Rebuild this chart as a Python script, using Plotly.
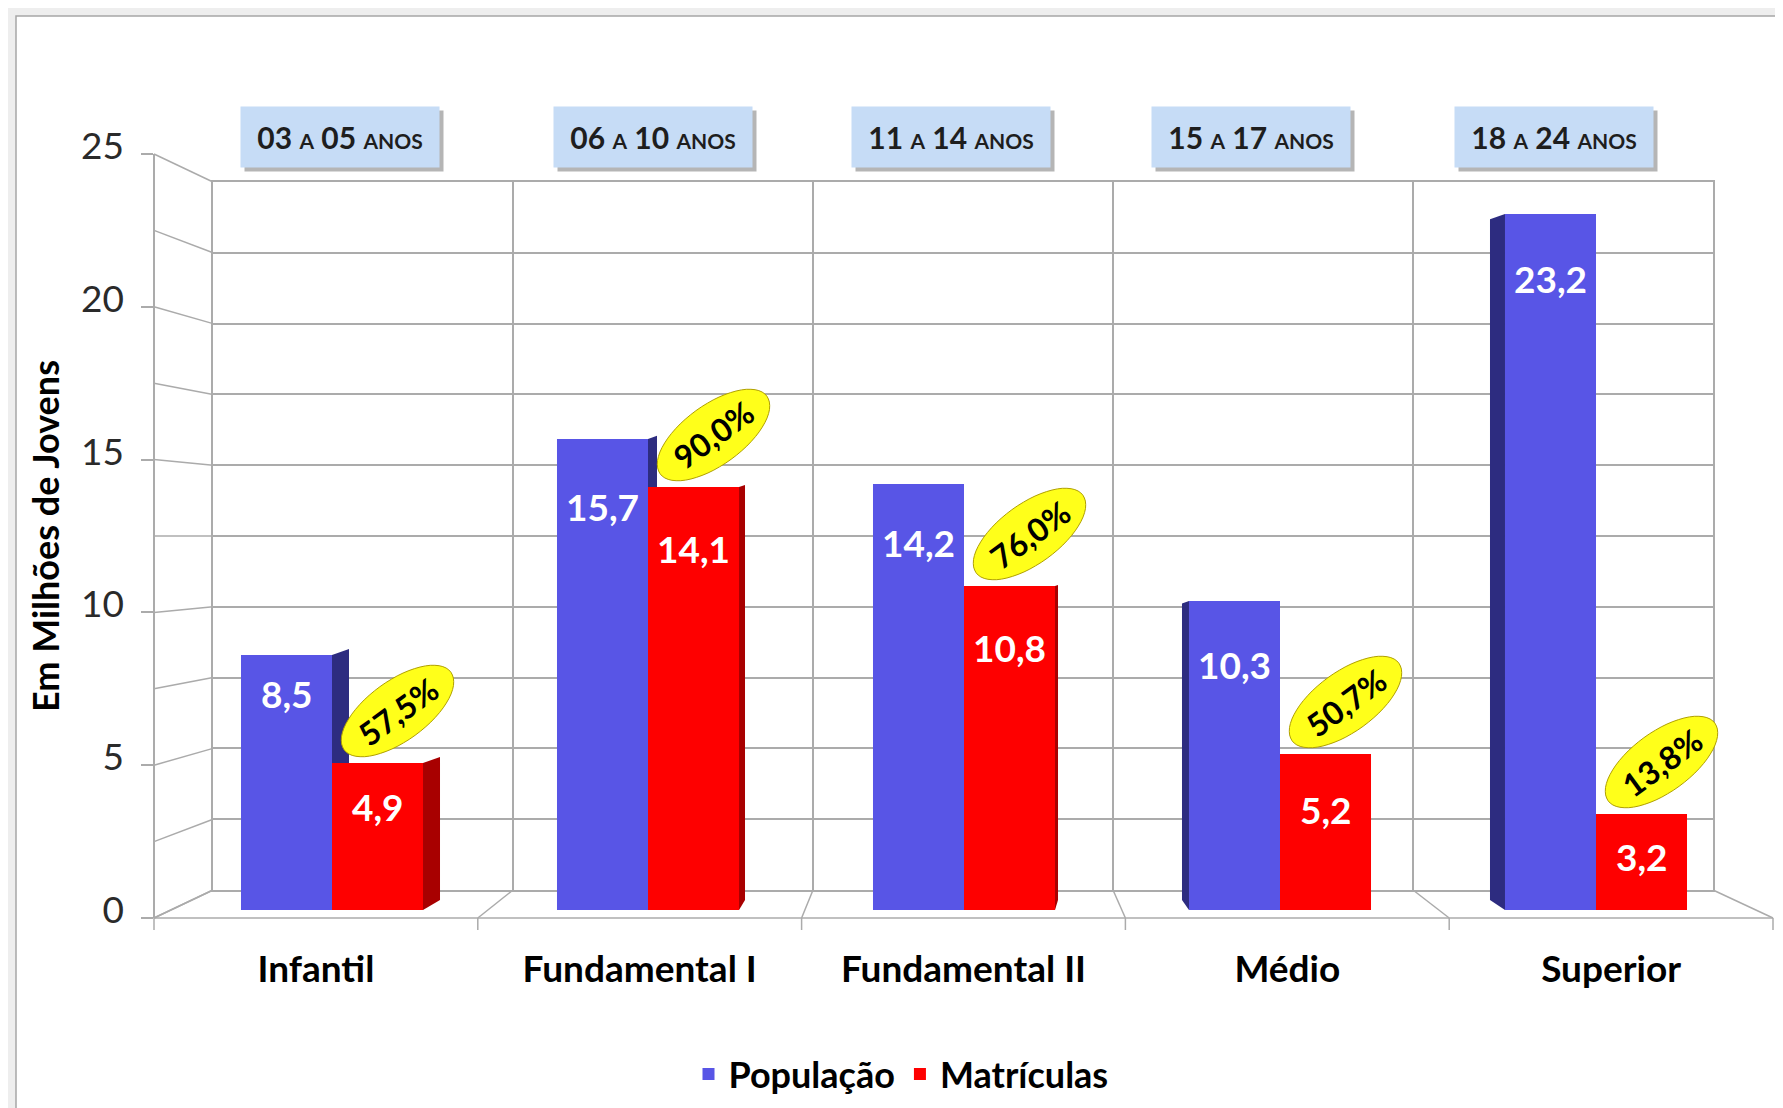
import math
import plotly.graph_objects as go

# ---------------- data ----------------
CATEGORIES = ["Infantil", "Fundamental I", "Fundamental II", "Médio", "Superior"]
AGE_FROM = ["03", "06", "11", "15", "18"]
AGE_TO = ["05", "10", "14", "17", "24"]
POPULACAO = [8.5, 15.7, 14.2, 10.3, 23.2]
MATRICULAS = [4.9, 14.1, 10.8, 5.2, 3.2]
PERCENT = [57.5, 90.0, 76.0, 50.7, 13.8]
Y_TICKS = [0, 5, 10, 15, 20, 25]

# ---------------- style ----------------
W, H = 1783, 1108
FONT = "Lato"
BLUE = "#5855e6"
RED = "#fe0000"
BLUE_SIDE_COL = "#2d2c80"
RED_SIDE_COL = "#a80000"
GRID = "#ababab"
BAR_W = 0.288
BLUE_SIDE = [17, 9, 0, -7, -15]
RED_SIDE = [17, 6, 3, 0, 0]
HEADER_XSHIFT = [8, 5, -13, -29, -42]
POP_LABEL_DY = [38, 68, 58, 63, 65]
MAT_LABEL_DY = [43, 61, 61, 55, 42]


def px(x):
    return x / W


def py(y):
    return 1 - y / H


def fmt(v):
    return f"{v:.1f}".replace(".", ",")


idx = list(range(len(CATEGORIES)))

fig = go.Figure()

# back wall subplot (gridlines only)
fig.add_trace(go.Scatter(x=[None], y=[None], xaxis="x", yaxis="y",
                         showlegend=False, hoverinfo="skip"))
# bars
fig.add_trace(go.Bar(x=idx, y=POPULACAO, name="População", marker_color=BLUE,
                     marker_line_width=0, xaxis="x2", yaxis="y2"))
fig.add_trace(go.Bar(x=idx, y=MATRICULAS, name="Matrículas", marker_color=RED,
                     marker_line_width=0, xaxis="x2", yaxis="y2"))
# front value axis / front category labels
fig.add_trace(go.Scatter(x=[None], y=[None], xaxis="x3", yaxis="y3",
                         showlegend=False, hoverinfo="skip"))

shapes = []
# outer frame
shapes.append(dict(type="rect", xref="paper", yref="paper", x0=px(8), x1=px(1776),
                   y0=py(1104), y1=py(8), fillcolor="white",
                   line=dict(color="#a6a6a6", width=1.5), layer="below"))

# perspective lines of the left wall
FRONT_TOP, FRONT_BOT = 146, 910
BACK_TOP, BACK_BOT = 174, 882
FRONT_L, BACK_L, BACK_R, FRONT_R = 146, 205, 1705, 1765
v = 0.0
while v <= 25.001:
    yf = FRONT_BOT - v * (FRONT_BOT - FRONT_TOP) / 25
    yb = BACK_BOT - v * (BACK_BOT - BACK_TOP) / 25
    shapes.append(dict(type="line", xref="paper", yref="paper", x0=px(FRONT_L), y0=py(yf),
                       x1=px(BACK_L), y1=py(yb), line=dict(color=GRID, width=1.5),
                       layer="below"))
    v += 2.5
# floor
shapes.append(dict(type="line", xref="paper", yref="paper", x0=px(FRONT_L), y0=py(FRONT_BOT),
                   x1=px(FRONT_R), y1=py(FRONT_BOT), line=dict(color=GRID, width=1.5),
                   layer="below"))
n = len(CATEGORIES)
for i in range(n + 1):
    xb = BACK_L + (BACK_R - BACK_L) / n * i
    xf = FRONT_L + (FRONT_R - FRONT_L) / n * i
    shapes.append(dict(type="line", xref="paper", yref="paper", x0=px(xb), y0=py(BACK_BOT),
                       x1=px(xf), y1=py(FRONT_BOT), line=dict(color=GRID, width=1.5),
                       layer="below"))
    shapes.append(dict(type="line", xref="paper", yref="paper", x0=px(xf), y0=py(FRONT_BOT),
                       x1=px(xf), y1=py(FRONT_BOT + 12), line=dict(color=GRID, width=1.5),
                       layer="below"))

# pseudo-3D side faces (x in pixels, y in data units)
UNIT_PER_PX = 25 / (902 - 152)


def side_face(anchor, w, top, color):
    rt = 0.35 * w * UNIT_PER_PX
    rb = 10 * UNIT_PER_PX
    path = f"M 0,{top} L {w},{top + rt} L {w},{rb} L 0,0 Z"
    return dict(type="path", xref="x2", yref="y2", xsizemode="pixel", xanchor=anchor,
                path=path, fillcolor=color, line=dict(width=0), layer="below")


for i in idx:
    w = BLUE_SIDE[i]
    if w > 0:
        shapes.append(side_face(i, w, POPULACAO[i], BLUE_SIDE_COL))
    elif w < 0:
        shapes.append(side_face(i - BAR_W, w, POPULACAO[i], BLUE_SIDE_COL))
    w = RED_SIDE[i]
    if w > 0:
        shapes.append(side_face(i + BAR_W, w, MATRICULAS[i], RED_SIDE_COL))

# yellow ellipses for percentages
A_ELL, B_ELL, ROT = 66, 30, math.radians(36)
CX, CY = 20, 52
for i in idx:
    pts = []
    for k in range(60):
        t = 2 * math.pi * k / 60
        ex = CX + A_ELL * math.cos(t) * math.cos(ROT) - B_ELL * math.sin(t) * math.sin(ROT)
        ey = CY + A_ELL * math.cos(t) * math.sin(ROT) + B_ELL * math.sin(t) * math.cos(ROT)
        pts.append(f"{ex:.1f},{ey:.1f}")
    path = "M " + " L ".join(pts) + " Z"
    shapes.append(dict(type="path", xref="x2", yref="y2", xsizemode="pixel",
                       ysizemode="pixel", xanchor=i + BAR_W / 2, yanchor=MATRICULAS[i],
                       path=path, fillcolor="#ffff1a", line=dict(color="#b0a000", width=1),
                       layer="above"))

annotations = []
# value labels
for i in idx:
    annotations.append(dict(x=i - BAR_W / 2, y=POPULACAO[i], xref="x2", yref="y2",
                            xanchor="center", yanchor="middle",
                            text=f"<b>{fmt(POPULACAO[i])}</b>", showarrow=False,
                            yshift=-POP_LABEL_DY[i],
                            font=dict(family=FONT, size=37, color="white")))
    annotations.append(dict(x=i + BAR_W / 2, y=MATRICULAS[i], xref="x2", yref="y2",
                            xanchor="center", yanchor="middle",
                            text=f"<b>{fmt(MATRICULAS[i])}</b>", showarrow=False,
                            yshift=-MAT_LABEL_DY[i],
                            font=dict(family=FONT, size=37, color="white")))
    annotations.append(dict(x=i + BAR_W / 2, y=MATRICULAS[i], xref="x2", yref="y2",
                            xanchor="center", yanchor="middle",
                            text=f"<b>{fmt(PERCENT[i])}%</b>", showarrow=False,
                            xshift=CX, yshift=CY, textangle=-36,
                            font=dict(family=FONT, size=32, color="black")))
# header boxes
for i in idx:
    txt = (f"<b>{AGE_FROM[i]} <span style='font-size:21px'>A</span> {AGE_TO[i]} "
           f"<span style='font-size:21px'>ANOS</span></b>")
    for shadow in (True, False):
        annotations.append(dict(
            x=i, y=py(129), xref="x2", yref="paper", xanchor="center", yanchor="middle",
            text=" " if shadow else txt, showarrow=False,
            xshift=HEADER_XSHIFT[i] + (4 if shadow else 0), yshift=(-4 if shadow else 0),
            width=190, height=52, borderpad=4, align="center", valign="middle",
            bgcolor="rgba(90,90,90,0.45)" if shadow else "#c6dcf6",
            font=dict(family=FONT, size=30, color="#1e1e1e")))
# y title
annotations.append(dict(x=px(37), y=py(528), xref="paper", yref="paper",
                        xanchor="center", yanchor="middle",
                        text="<b>Em Milhões de Jovens</b>", showarrow=False, textangle=-90,
                        font=dict(family=FONT, size=36, color="black")))

fig.update_layout(
    template="none",
    width=W, height=H, autosize=False,
    margin=dict(l=0, r=0, t=0, b=0),
    paper_bgcolor="#eeeeee",
    plot_bgcolor="rgba(0,0,0,0)",
    barmode="group", bargap=0.424, bargroupgap=0,
    font=dict(family=FONT, color="black"),
    showlegend=True,
    legend=dict(orientation="h", x=px(893), xanchor="center", y=py(1066),
                yanchor="middle", font=dict(family=FONT, size=36, weight="bold"),
                bgcolor="rgba(0,0,0,0)", itemwidth=30),
    xaxis=dict(domain=[px(205), px(1705)], range=[-0.5, 4.5], tick0=-0.5, dtick=1,
               showgrid=True, gridcolor=GRID, gridwidth=1.5, showticklabels=False,
               ticks="", zeroline=False, showline=True, mirror=True, linecolor=GRID,
               linewidth=1.5, anchor="y", automargin=False, fixedrange=True),
    yaxis=dict(domain=[py(882), py(174)], range=[0, 25], tick0=0, dtick=2.5,
               showgrid=True, gridcolor=GRID, gridwidth=1.5, showticklabels=False,
               ticks="", zeroline=False, showline=True, mirror=True, linecolor=GRID,
               linewidth=1.5, anchor="x", automargin=False, fixedrange=True),
    xaxis2=dict(domain=[px(166), px(1746)], range=[-0.5, 4.5], showticklabels=False,
                showgrid=False, zeroline=False, showline=False, ticks="", anchor="y2",
                automargin=False, fixedrange=True),
    yaxis2=dict(domain=[py(902), py(152)], range=[0, 25], visible=False, anchor="x2",
                showgrid=False, zeroline=False, automargin=False, fixedrange=True),
    xaxis3=dict(domain=[px(FRONT_L), px(FRONT_R)], range=[-0.5, 4.5], anchor="y3",
                tickmode="array", tickvals=idx, ticktext=CATEGORIES, showgrid=False,
                zeroline=False, showline=False, ticks="", ticklabelstandoff=26,
                tickfont=dict(family=FONT, size=37, color="black", weight="bold"),
                automargin=False, fixedrange=True),
    yaxis3=dict(domain=[py(FRONT_BOT), py(FRONT_TOP)], range=[0, 25], anchor="free",
                position=px(FRONT_L), tickmode="array", tickvals=Y_TICKS,
                ticks="outside", ticklen=12, tickcolor=GRID, tickwidth=1.5,
                showline=True, linecolor=GRID, linewidth=1.5, showgrid=False,
                zeroline=False, ticklabelstandoff=10, ticklabelshift=-8,
                tickfont=dict(family=FONT, size=37, color="#2a2a2a"),
                automargin=False, fixedrange=True),
    shapes=shapes,
    annotations=annotations,
)

fig.write_html("out.html")
